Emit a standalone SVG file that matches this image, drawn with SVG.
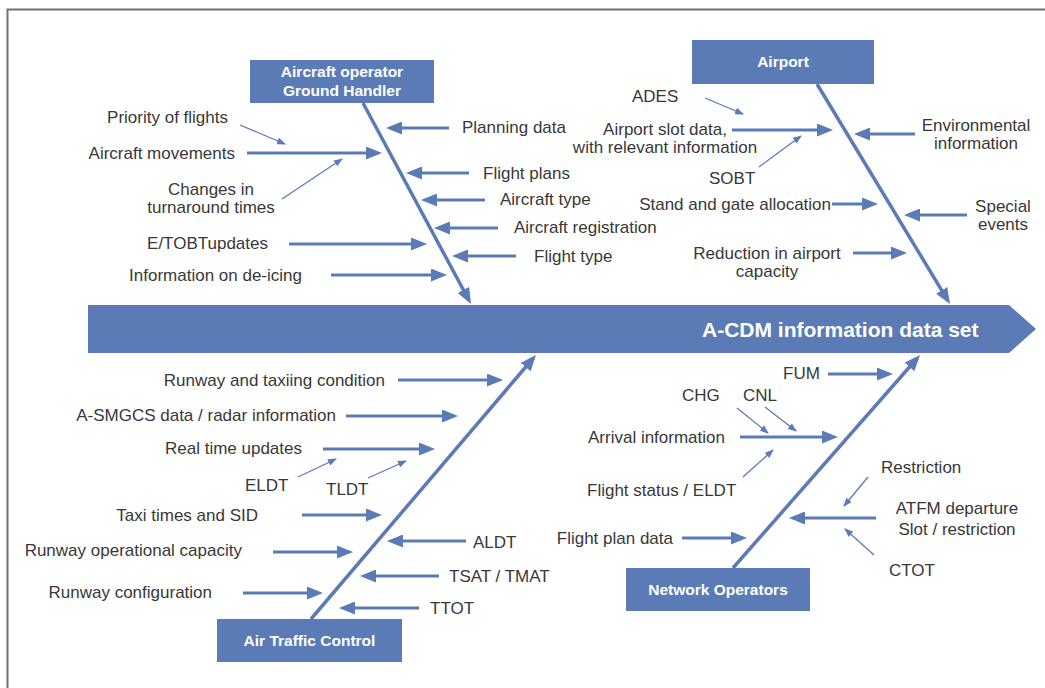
<svg xmlns="http://www.w3.org/2000/svg" width="1045" height="688" viewBox="0 0 1045 688">
<style>
.bg{fill:#ffffff}
.frame{fill:none;stroke:#707070;stroke-width:2}
.box{fill:#5b7bb7}
.bt{font-family:"Liberation Sans",Arial,sans-serif;font-size:15.5px;font-weight:bold;fill:#ffffff;text-anchor:middle}
.big{font-family:"Liberation Sans",Arial,sans-serif;font-size:21px;font-weight:bold;fill:#ffffff}
.lb{font-family:"Liberation Sans",Arial,sans-serif;font-size:17px;fill:#383838}
.e{text-anchor:end}
.m{text-anchor:middle}
.spine{stroke:#5b7bb7;stroke-width:3.5;fill:none;marker-end:url(#ah)}
.thick{stroke:#5b7bb7;stroke-width:3;fill:none;marker-end:url(#ah)}
.thin{stroke:#5b7bb7;stroke-width:1.3;fill:none;marker-end:url(#at)}
</style>
<defs>
<marker id="ah" markerUnits="userSpaceOnUse" markerWidth="16" markerHeight="13" refX="12" refY="6.5" orient="auto">
<path d="M0,0 L16,6.5 L0,13 z" fill="#5b7bb7"/>
</marker>
<marker id="at" markerUnits="userSpaceOnUse" markerWidth="9" markerHeight="7" refX="8" refY="3.5" orient="auto">
<path d="M0,0 L9,3.5 L0,7 z" fill="#5b7bb7"/>
</marker>
</defs>
<rect class="bg" x="0" y="0" width="1045" height="688"/>
<path class="frame" d="M7.5,688 L7.5,9.5 L1045,9.5"/>

<g id="effect">
<polygon class="box" points="88,305 1009,305 1036,329 1009,353 88,353"/>
<text class="big" x="702" y="337">A-CDM information data set</text>
</g>

<g id="node-aircraft-operator">
<rect class="box" x="250" y="60" width="184" height="43"/>
<text class="bt" x="342" y="77">Aircraft operator</text>
<text class="bt" x="342" y="96">Ground Handler</text>
</g>
<g id="node-airport">
<rect class="box" x="692" y="40" width="182" height="44"/>
<text class="bt" x="783" y="67">Airport</text>
</g>
<g id="node-atc">
<rect class="box" x="217" y="619" width="185" height="43"/>
<text class="bt" x="309.5" y="646">Air Traffic Control</text>
</g>
<g id="node-network">
<rect class="box" x="626" y="568" width="184" height="43"/>
<text class="bt" x="718" y="595">Network Operators</text>
</g>

<g id="connectors">
<line class="spine" x1="363" y1="103" x2="469.1" y2="300.5"/>
<line class="spine" x1="817" y1="84" x2="947.9" y2="300.6"/>
<line class="spine" x1="311" y1="619" x2="533.4" y2="358"/>
<line class="spine" x1="733" y1="568" x2="917.4" y2="358"/>

<line class="thick" x1="247" y1="153" x2="378" y2="153"/>
<line class="thick" x1="289" y1="244" x2="423" y2="244"/>
<line class="thick" x1="331" y1="275" x2="443" y2="275"/>
<line class="thick" x1="449" y1="128" x2="390" y2="128"/>
<line class="thick" x1="469" y1="173" x2="410" y2="173"/>
<line class="thick" x1="485" y1="200" x2="425" y2="200"/>
<line class="thick" x1="498" y1="228" x2="438" y2="228"/>
<line class="thick" x1="516" y1="256" x2="456" y2="256"/>

<line class="thick" x1="732" y1="130" x2="829" y2="130"/>
<line class="thick" x1="832" y1="204" x2="874" y2="204"/>
<line class="thick" x1="853" y1="253" x2="903" y2="253"/>
<line class="thick" x1="915" y1="134" x2="858" y2="134"/>
<line class="thick" x1="967" y1="215" x2="908" y2="215"/>

<line class="thick" x1="398" y1="380" x2="499" y2="380"/>
<line class="thick" x1="346" y1="416" x2="454" y2="416"/>
<line class="thick" x1="323" y1="449" x2="431" y2="449"/>
<line class="thick" x1="302" y1="515" x2="378" y2="515"/>
<line class="thick" x1="273" y1="552" x2="349" y2="552"/>
<line class="thick" x1="243" y1="593" x2="319" y2="593"/>
<line class="thick" x1="466" y1="541" x2="391" y2="541"/>
<line class="thick" x1="439" y1="576" x2="364" y2="576"/>
<line class="thick" x1="419" y1="608" x2="343" y2="608"/>

<line class="thick" x1="828" y1="374" x2="889" y2="374"/>
<line class="thick" x1="740" y1="437" x2="834" y2="437"/>
<line class="thick" x1="682" y1="538" x2="743" y2="538"/>
<line class="thick" x1="876" y1="518" x2="793" y2="518"/>

<line class="thin" x1="240" y1="125" x2="285" y2="144"/>
<line class="thin" x1="282" y1="199" x2="342" y2="159"/>
<line class="thin" x1="705" y1="98" x2="743" y2="114"/>
<line class="thin" x1="759" y1="167" x2="801" y2="136"/>
<line class="thin" x1="298" y1="477" x2="336" y2="459"/>
<line class="thin" x1="368" y1="478" x2="406" y2="461"/>
<line class="thin" x1="737" y1="408" x2="768" y2="433"/>
<line class="thin" x1="765" y1="407" x2="796" y2="431"/>
<line class="thin" x1="743" y1="477" x2="773" y2="450"/>
<line class="thin" x1="868" y1="477" x2="844" y2="506"/>
<line class="thin" x1="874" y1="555" x2="845" y2="529"/>
</g>

<g id="labels">
<text class="lb e" x="228" y="123">Priority of flights</text>
<text class="lb e" x="235" y="159">Aircraft movements</text>
<text class="lb m" x="211" y="195">Changes in</text>
<text class="lb m" x="211" y="213">turnaround times</text>
<text class="lb e" x="268" y="249">E/TOBTupdates</text>
<text class="lb e" x="302" y="281">Information on de-icing</text>
<text class="lb" x="462" y="133">Planning data</text>
<text class="lb" x="483" y="179">Flight plans</text>
<text class="lb" x="500" y="205">Aircraft type</text>
<text class="lb" x="514" y="233">Aircraft registration</text>
<text class="lb" x="534" y="262">Flight type</text>

<text class="lb" x="632" y="102">ADES</text>
<text class="lb m" x="665" y="135">Airport slot data,</text>
<text class="lb m" x="665" y="153">with relevant information</text>
<text class="lb" x="709" y="184">SOBT</text>
<text class="lb e" x="831" y="210">Stand and gate allocation</text>
<text class="lb m" x="767" y="259">Reduction in airport</text>
<text class="lb m" x="767" y="277">capacity</text>
<text class="lb m" x="976" y="131">Environmental</text>
<text class="lb m" x="976" y="149">information</text>
<text class="lb m" x="1003" y="212">Special</text>
<text class="lb m" x="1003" y="230">events</text>

<text class="lb e" x="385" y="386">Runway and taxiing condition</text>
<text class="lb e" x="336" y="421">A-SMGCS data / radar information</text>
<text class="lb e" x="302" y="454">Real time updates</text>
<text class="lb" x="245" y="491">ELDT</text>
<text class="lb" x="326" y="495">TLDT</text>
<text class="lb e" x="258" y="521">Taxi times and SID</text>
<text class="lb e" x="242" y="556">Runway operational capacity</text>
<text class="lb e" x="212" y="598">Runway configuration</text>
<text class="lb" x="473" y="548">ALDT</text>
<text class="lb" x="449" y="582">TSAT / TMAT</text>
<text class="lb" x="430" y="614">TTOT</text>

<text class="lb" x="783" y="379">FUM</text>
<text class="lb" x="682" y="401">CHG</text>
<text class="lb" x="743" y="401">CNL</text>
<text class="lb e" x="725" y="443">Arrival information</text>
<text class="lb" x="587" y="496">Flight status / ELDT</text>
<text class="lb e" x="673" y="544">Flight plan data</text>
<text class="lb" x="881" y="473">Restriction</text>
<text class="lb m" x="957" y="514">ATFM departure</text>
<text class="lb m" x="957" y="535">Slot / restriction</text>
<text class="lb" x="889" y="576">CTOT</text>
</g>
</svg>
